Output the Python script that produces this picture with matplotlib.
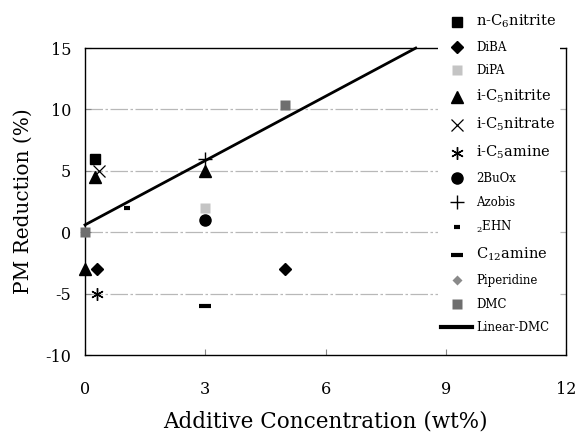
import matplotlib
matplotlib.use("Agg")
import matplotlib.pyplot as plt

plt.rcParams["font.family"] = ["DejaVu Serif"]
plt.rcParams["mathtext.fontset"] = "dejavuserif"
plt.rcParams["axes.unicode_minus"] = False

# Additive concentration (wt%) and PM reduction (%) per additive
n_c6_nitrite_x = [0.25]
n_c6_nitrite_y = [6.0]
diba_x = [0.3, 5.0]
diba_y = [-3.0, -3.0]
dipa_x = [3.0]
dipa_y = [2.0]
i_c5_nitrite_x = [0.0, 0.25, 3.0]
i_c5_nitrite_y = [-3.0, 4.5, 5.0]
i_c5_nitrate_x = [0.35]
i_c5_nitrate_y = [5.0]
i_c5_amine_x = [0.3]
i_c5_amine_y = [-5.0]
buox_x = [3.0]
buox_y = [1.0]
azobis_x = [3.0]
azobis_y = [6.0]
ehn_x = [1.05]
ehn_y = [2.0]
c12_amine_x = [3.0]
c12_amine_y = [-6.0]
piperidine_x = [0.0]
piperidine_y = [0.0]
dmc_x = [0.0, 5.0]
dmc_y = [0.0, 10.4]
linear_dmc_x = [0.0, 8.25]
linear_dmc_y = [0.6, 15.0]

x_ticks = [0, 3, 6, 9, 12]
y_ticks = [-10, -5, 0, 5, 10, 15]

fig = plt.figure(figsize=(5.8, 4.37), dpi=100)
ax = fig.add_axes([0.1466, 0.1876, 0.8294, 0.7024])

ax.set_xlim(0, 12)
ax.set_ylim(-10, 15)
ax.set_xticks(x_ticks)
ax.set_yticks(y_ticks)
ax.tick_params(direction="in", length=4, width=0.8, colors="#888888",
               labelcolor="black", labelsize=11.5)
ax.tick_params(axis="x", pad=19)
ax.tick_params(axis="y", pad=10)
for s in ax.spines.values():
    s.set_linewidth(1.0)
    s.set_color("black")

for gy in [-5, 0, 5, 10]:
    ax.axhline(gy, color="#b8b8b8", lw=0.9, ls=(0, (14, 2, 2, 2)), zorder=1)

ax.plot(linear_dmc_x, linear_dmc_y, color="black", lw=2.0, zorder=3,
        label="Linear-DMC", clip_on=False)

kw = dict(ls="none", zorder=4, clip_on=False)
ax.plot(n_c6_nitrite_x, n_c6_nitrite_y, marker="s", ms=7.5, color="black",
        label="n-C$_6$nitrite", **kw)
ax.plot(diba_x, diba_y, marker="D", ms=6, color="black", label="DiBA", **kw)
ax.plot(dipa_x, dipa_y, marker="s", ms=7.5, color="#c4c4c4", mec="none",
        label="DiPA", **kw)
ax.plot(i_c5_nitrite_x, i_c5_nitrite_y, marker="^", ms=8, color="black",
        label="i-C$_5$nitrite", **kw)
ax.plot(i_c5_nitrate_x, i_c5_nitrate_y, marker="x", ms=9, mew=0.9,
        color="black", label="i-C$_5$nitrate", **kw)
ax.plot(i_c5_amine_x, i_c5_amine_y, marker=(6, 2, 0), ms=9, mew=1.0,
        color="black", label="i-C$_5$amine", **kw)
ax.plot(buox_x, buox_y, marker="o", ms=8, color="black", label="2BuOx", **kw)
ax.plot(azobis_x, azobis_y, marker="+", ms=10, mew=1.0, color="black",
        label="Azobis", **kw)
ax.plot(ehn_x, ehn_y, marker="_", ms=5, mew=3, color="black",
        label="$_2$EHN", **kw)
ax.plot(c12_amine_x, c12_amine_y, marker="_", ms=9, mew=3, color="black",
        label="C$_{12}$amine", **kw)
ax.plot(piperidine_x, piperidine_y, marker="D", ms=5, color="#8a8a8a",
        mec="none", label="Piperidine", **kw)
ax.plot(dmc_x, dmc_y, marker="s", ms=7.5, color="#6e6e6e", mec="none",
        label="DMC", **kw)

ax.set_xlabel("Additive Concentration (wt%)", fontsize=15.5, labelpad=9)
ax.set_ylabel("PM Reduction (%)", fontsize=14.5, labelpad=9)

order = ["n-C$_6$nitrite", "DiBA", "DiPA", "i-C$_5$nitrite", "i-C$_5$nitrate",
         "i-C$_5$amine", "2BuOx", "Azobis", "$_2$EHN", "C$_{12}$amine",
         "Piperidine", "DMC", "Linear-DMC"]
handles, labels = ax.get_legend_handles_labels()
hmap = dict(zip(labels, handles))
leg = fig.legend([hmap[k] for k in order], order, loc="upper left",
                 bbox_to_anchor=(0.755, 0.979), fontsize=8.5, frameon=True,
                 fancybox=False, facecolor="white", edgecolor="none",
                 framealpha=1.0, handlelength=2.6, handletextpad=0.35,
                 labelspacing=0.9, borderpad=0.3, borderaxespad=0)
big = {"n-C$_6$nitrite", "i-C$_5$nitrite", "i-C$_5$nitrate", "i-C$_5$amine",
       "C$_{12}$amine"}
for t in leg.get_texts():
    if t.get_text() in big:
        t.set_fontsize(10.5)
leg.get_lines()[-1].set_linewidth(3.0)
leg.set_zorder(10)

fig.savefig("out.png", dpi=100)
